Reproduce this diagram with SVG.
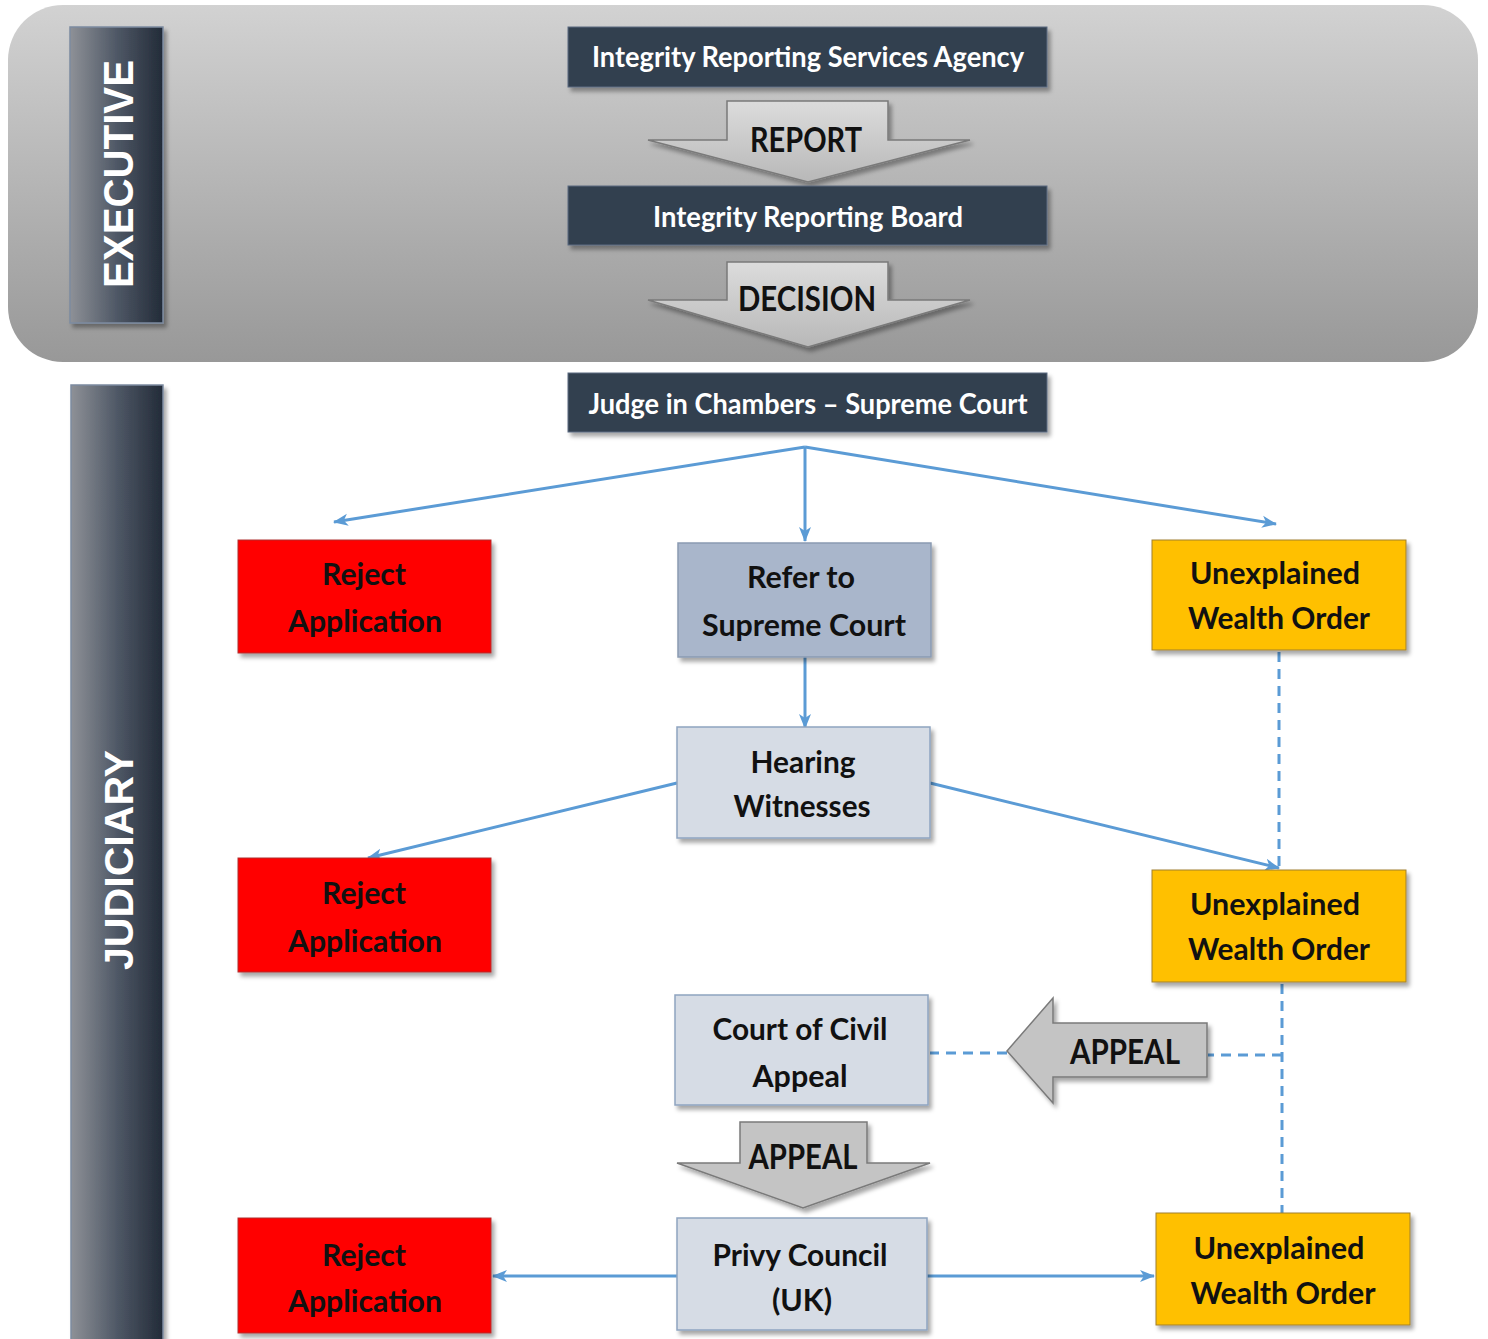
<svg xmlns="http://www.w3.org/2000/svg" width="1488" height="1339" viewBox="0 0 1488 1339">
<defs>
<linearGradient id="bgGrad" x1="0" y1="0" x2="0" y2="1">
<stop offset="0" stop-color="#d2d2d2"/>
<stop offset="1" stop-color="#989898"/>
</linearGradient>
<linearGradient id="barGrad" x1="0" y1="0" x2="1" y2="0">
<stop offset="0" stop-color="#8e9197"/>
<stop offset="0.5" stop-color="#4f5866"/>
<stop offset="1" stop-color="#222b38"/>
</linearGradient>
<linearGradient id="arrGrad" x1="0" y1="0" x2="0" y2="1">
<stop offset="0" stop-color="#dcdcdc"/>
<stop offset="1" stop-color="#b8b8b8"/>
</linearGradient>
<filter id="sh" x="-10%" y="-10%" width="125%" height="130%">
<feDropShadow dx="3" dy="4" stdDeviation="2" flood-color="#000" flood-opacity="0.35"/>
</filter>
<marker id="ah" markerUnits="userSpaceOnUse" markerWidth="16" markerHeight="14" refX="14" refY="7" orient="auto">
<path d="M0,1 L15,7 L0,13 L4,7 Z" fill="#5b9bd5"/>
</marker>
<style>
.dark{fill:#333f50;stroke:#5a6a80;stroke-width:1}
.red{fill:#ff0000;stroke:#b03030;stroke-width:1}
.gold{fill:#ffc000;stroke:#a08030;stroke-width:1}
.lb{fill:#d6dce5;stroke:#8ea4c0;stroke-width:1.5}
.mb{fill:#a9b6cb;stroke:#8a9ab2;stroke-width:1.5}
.bar{fill:url(#barGrad);stroke:#7c8ba0;stroke-width:1.5}
.arr{fill:url(#arrGrad);stroke:#7a7a7a;stroke-width:1.5}
.arr2{fill:#c4c4c4;stroke:#7a7a7a;stroke-width:1.5}
.wt{font-family:Lato,"Open Sans","Liberation Sans",sans-serif;font-weight:bold;fill:#ffffff;text-anchor:middle}
.bt{font-family:Lato,"Open Sans","Liberation Sans",sans-serif;font-weight:bold;fill:#111111;text-anchor:middle}
.lt{font-family:"Liberation Sans","DejaVu Sans",sans-serif;font-weight:bold;fill:#ffffff;text-anchor:middle}
.con{fill:none;stroke:#5b9bd5;stroke-width:3}
.dash{fill:none;stroke:#5b9bd5;stroke-width:3;stroke-dasharray:10,7}
</style>
</defs>

<rect id="executive-bg" x="8" y="5" width="1470" height="357" rx="55" ry="55" fill="url(#bgGrad)"/>

<g id="executive-label">
<rect class="bar" x="70" y="27" width="93" height="296" filter="url(#sh)"/>
<text class="lt" font-size="42" transform="translate(133,174) rotate(-90)" textLength="228" lengthAdjust="spacingAndGlyphs">EXECUTIVE</text>
</g>

<g id="judiciary-label">
<rect class="bar" x="71" y="385" width="92" height="960" filter="url(#sh)"/>
<text class="lt" font-size="40" transform="translate(133,860) rotate(-90)" textLength="220" lengthAdjust="spacingAndGlyphs">JUDICIARY</text>
</g>

<g id="connectors">
<path class="con" d="M805,447 L334,522" marker-end="url(#ah)"/>
<path class="con" d="M805,447 L805,541" marker-end="url(#ah)"/>
<path class="con" d="M805,447 L1276,524" marker-end="url(#ah)"/>
<path class="con" d="M805,657 L805,728" marker-end="url(#ah)"/>
<path class="con" d="M677,783 L368,858" marker-end="url(#ah)"/>
<path class="con" d="M930,783 L1279,868" marker-end="url(#ah)"/>
<path class="con" d="M677,1276 L493,1276" marker-end="url(#ah)"/>
<path class="con" d="M927,1276 L1154,1276" marker-end="url(#ah)"/>
<path class="dash" d="M1279,652 L1279,868"/>
<path class="dash" d="M1282,984 L1282,1213"/>
<path class="dash" d="M1282,1055 L1208,1055"/>
<path class="dash" d="M1007,1053 L930,1053"/>
</g>

<g id="agency">
<rect class="dark" x="568" y="27" width="479" height="60" filter="url(#sh)"/>
<text class="wt" x="808" y="67" font-size="29" textLength="432" lengthAdjust="spacingAndGlyphs">Integrity Reporting Services Agency</text>
</g>

<g id="report-arrow">
<path class="arr" d="M727,101 L888,101 L888,140 L970,140 L808,182 L648,140 L727,140 Z" filter="url(#sh)"/>
<text class="bt" x="806" y="152" font-size="35" textLength="112" lengthAdjust="spacingAndGlyphs">REPORT</text>
</g>

<g id="board">
<rect class="dark" x="568" y="186" width="479" height="59" filter="url(#sh)"/>
<text class="wt" x="808" y="227" font-size="29" textLength="310" lengthAdjust="spacingAndGlyphs">Integrity Reporting Board</text>
</g>

<g id="decision-arrow">
<path class="arr" d="M727,262 L888,262 L888,300 L970,300 L808,347 L648,300 L727,300 Z" filter="url(#sh)"/>
<text class="bt" x="807" y="311" font-size="35" textLength="138" lengthAdjust="spacingAndGlyphs">DECISION</text>
</g>

<g id="judge">
<rect class="dark" x="568" y="373" width="479" height="59" filter="url(#sh)"/>
<text class="wt" x="808" y="414" font-size="29" textLength="439" lengthAdjust="spacingAndGlyphs">Judge in Chambers – Supreme Court</text>
</g>

<g id="reject1">
<rect class="red" x="238" y="540" width="253" height="113" filter="url(#sh)"/>
<text class="bt" x="364" y="585" font-size="30" textLength="84" lengthAdjust="spacingAndGlyphs">Reject</text>
<text class="bt" x="365" y="632" font-size="30" textLength="154" lengthAdjust="spacingAndGlyphs">Application</text>
</g>

<g id="refer">
<rect class="mb" x="678" y="543" width="253" height="114" filter="url(#sh)"/>
<text class="bt" x="801" y="588" font-size="30" textLength="108" lengthAdjust="spacingAndGlyphs">Refer to</text>
<text class="bt" x="804" y="636" font-size="30" textLength="204" lengthAdjust="spacingAndGlyphs">Supreme Court</text>
</g>

<g id="uwo1">
<rect class="gold" x="1152" y="540" width="254" height="110" filter="url(#sh)"/>
<text class="bt" x="1275" y="584" font-size="30" textLength="170" lengthAdjust="spacingAndGlyphs">Unexplained</text>
<text class="bt" x="1279" y="629" font-size="30" textLength="182" lengthAdjust="spacingAndGlyphs">Wealth Order</text>
</g>

<g id="hearing">
<rect class="lb" x="677" y="727" width="253" height="111" filter="url(#sh)"/>
<text class="bt" x="803" y="773" font-size="30" textLength="105" lengthAdjust="spacingAndGlyphs">Hearing</text>
<text class="bt" x="802" y="817" font-size="30" textLength="137" lengthAdjust="spacingAndGlyphs">Witnesses</text>
</g>

<g id="reject2">
<rect class="red" x="238" y="858" width="253" height="114" filter="url(#sh)"/>
<text class="bt" x="364" y="904" font-size="30" textLength="84" lengthAdjust="spacingAndGlyphs">Reject</text>
<text class="bt" x="365" y="952" font-size="30" textLength="154" lengthAdjust="spacingAndGlyphs">Application</text>
</g>

<g id="uwo2">
<rect class="gold" x="1152" y="870" width="254" height="112" filter="url(#sh)"/>
<text class="bt" x="1275" y="915" font-size="30" textLength="170" lengthAdjust="spacingAndGlyphs">Unexplained</text>
<text class="bt" x="1279" y="960" font-size="30" textLength="182" lengthAdjust="spacingAndGlyphs">Wealth Order</text>
</g>

<g id="appeal-left">
<path class="arr2" d="M1207,1023 L1053,1023 L1053,998 L1007,1051 L1053,1103 L1053,1077 L1207,1077 Z" filter="url(#sh)"/>
<text class="bt" x="1125" y="1064" font-size="34" textLength="110" lengthAdjust="spacingAndGlyphs">APPEAL</text>
</g>

<g id="court-civil-appeal">
<rect class="lb" x="675" y="995" width="253" height="110" filter="url(#sh)"/>
<text class="bt" x="800" y="1040" font-size="30" textLength="175" lengthAdjust="spacingAndGlyphs">Court of Civil</text>
<text class="bt" x="800" y="1087" font-size="30" textLength="95" lengthAdjust="spacingAndGlyphs">Appeal</text>
</g>

<g id="appeal-down">
<path class="arr2" d="M740,1122 L867,1122 L867,1163 L930,1163 L803,1208 L677,1163 L740,1163 Z" filter="url(#sh)"/>
<text class="bt" x="803" y="1169" font-size="34" textLength="109" lengthAdjust="spacingAndGlyphs">APPEAL</text>
</g>

<g id="reject3">
<rect class="red" x="238" y="1218" width="253" height="115" filter="url(#sh)"/>
<text class="bt" x="364" y="1266" font-size="30" textLength="84" lengthAdjust="spacingAndGlyphs">Reject</text>
<text class="bt" x="365" y="1312" font-size="30" textLength="154" lengthAdjust="spacingAndGlyphs">Application</text>
</g>

<g id="privy-council">
<rect class="lb" x="677" y="1218" width="250" height="112" filter="url(#sh)"/>
<text class="bt" x="800" y="1266" font-size="30" textLength="175" lengthAdjust="spacingAndGlyphs">Privy Council</text>
<text class="bt" x="802" y="1311" font-size="30" textLength="60" lengthAdjust="spacingAndGlyphs">(UK)</text>
</g>

<g id="uwo3">
<rect class="gold" x="1156" y="1213" width="254" height="112" filter="url(#sh)"/>
<text class="bt" x="1279" y="1259" font-size="30" textLength="171" lengthAdjust="spacingAndGlyphs">Unexplained</text>
<text class="bt" x="1283" y="1304" font-size="30" textLength="185" lengthAdjust="spacingAndGlyphs">Wealth Order</text>
</g>
</svg>
